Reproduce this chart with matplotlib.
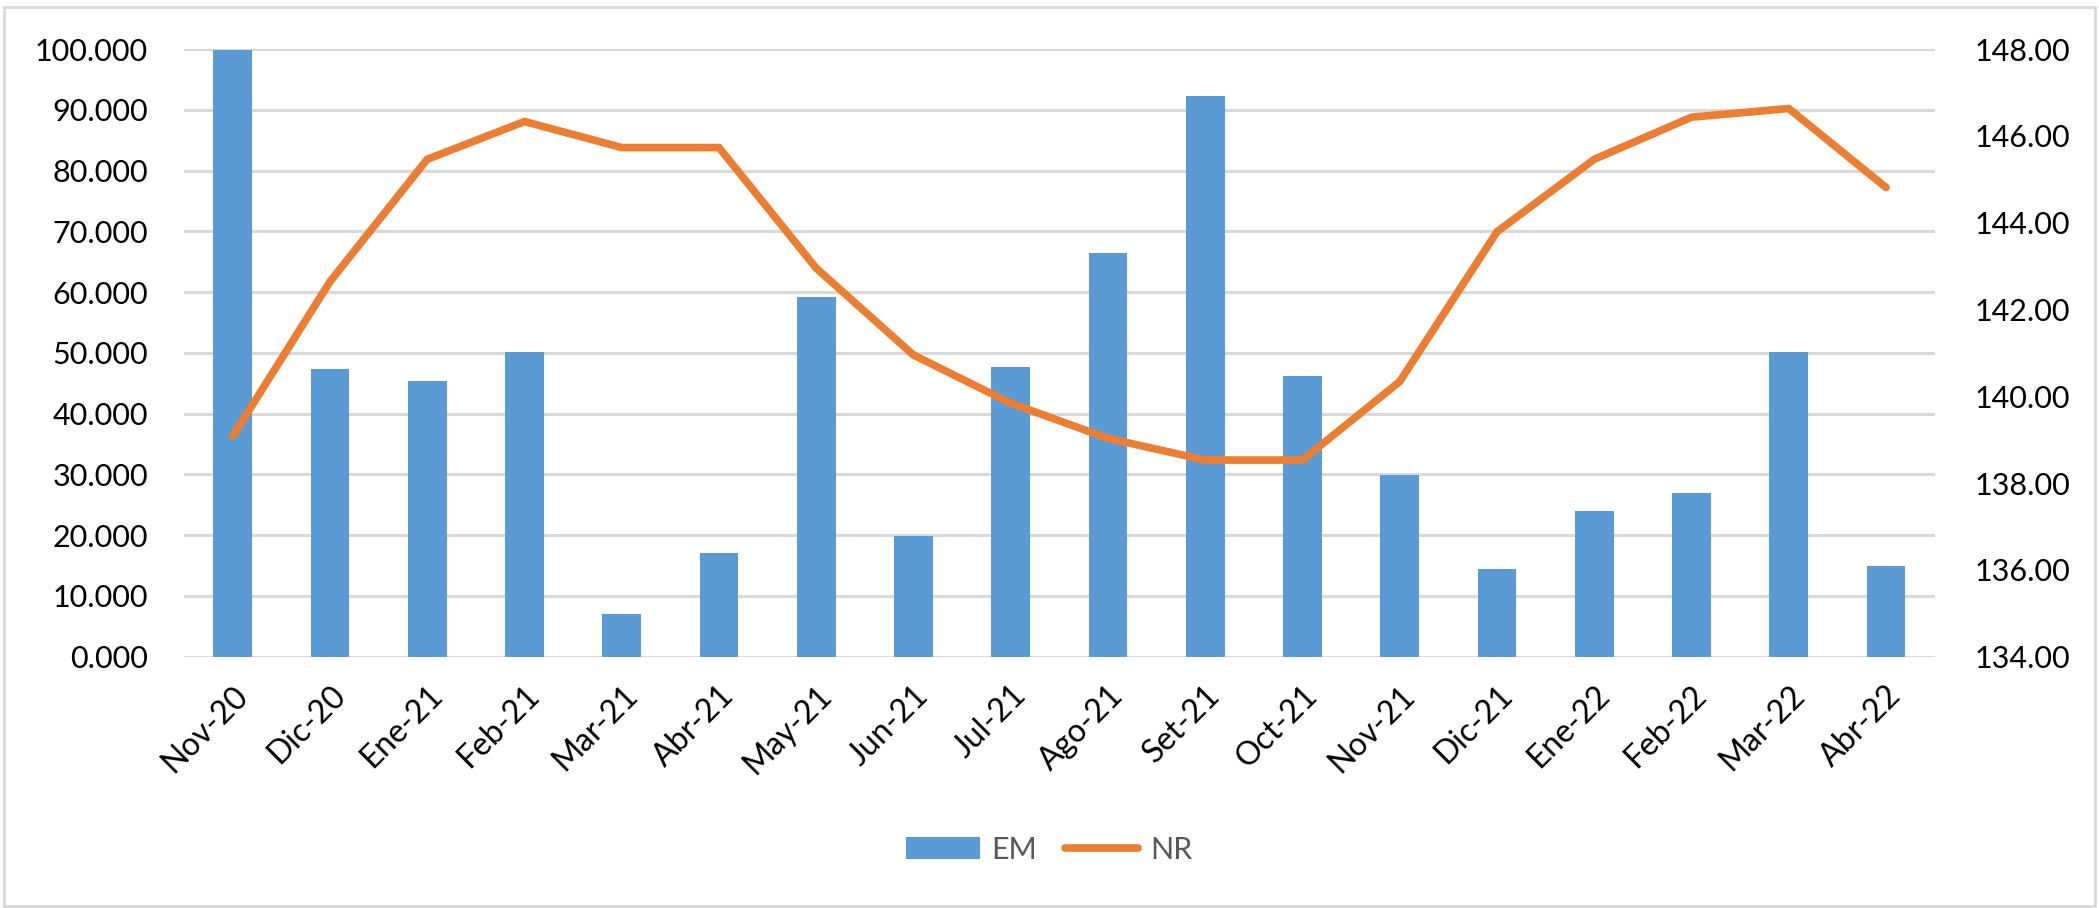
import numpy as np
import matplotlib
matplotlib.use("Agg")
import matplotlib.pyplot as plt
from matplotlib.ticker import FormatStrFormatter
from matplotlib.patches import Rectangle, Patch
from matplotlib.lines import Line2D

## Data
months = ["Nov-20", "Dic-20", "Ene-21", "Feb-21", "Mar-21", "Abr-21",
          "May-21", "Jun-21", "Jul-21", "Ago-21", "Set-21", "Oct-21",
          "Nov-21", "Dic-21", "Ene-22", "Feb-22", "Mar-22", "Abr-22"]
em = [99.8, 47.3, 45.3, 50.2, 7.1, 17.0, 59.2, 19.9, 47.7,
      66.5, 92.3, 46.2, 29.9, 14.5, 23.9, 26.9, 50.2, 15.0]
nr = [139.08, 142.64, 145.46, 146.33, 145.73, 145.73, 142.95, 140.95, 139.84,
      139.03, 138.53, 138.53, 140.34, 143.79, 145.46, 146.43, 146.63, 144.81]

left_ticks = np.arange(0, 101, 10)
right_ticks = np.arange(134, 149, 2)

## Styles
BLUE = "#5B9BD5"
ORANGE = "#ED7D31"
GRID = "#D9D9D9"
plt.rcParams["font.family"] = ["Lato", "DejaVu Sans"]
FS = 22

fig = plt.figure(figsize=(20.99, 9.08), dpi=100)
ax = fig.add_axes([0.0877, 0.2768, 0.834, 0.6692])
ax2 = ax.twinx()

x = np.arange(len(months))
ax.bar(x, em, width=0.4, color=BLUE, zorder=2)
ax2.plot(x, nr, color=ORANGE, linewidth=5.5, solid_joinstyle="miter",
         solid_capstyle="round", zorder=3)

ax.set_xlim(-0.5, len(months) - 0.5)
ax.set_ylim(0, 100)
ax2.set_ylim(134, 148)
ax.set_yticks(left_ticks)
ax2.set_yticks(right_ticks)
ax.yaxis.set_major_formatter(FormatStrFormatter("%.3f"))
ax2.yaxis.set_major_formatter(FormatStrFormatter("%.2f"))

ax.set_axisbelow(True)
ax.yaxis.grid(True, color=GRID, linewidth=2.2)
ax.set_xticks(x)
ax.set_xticklabels(months, rotation=45, ha="right", va="top",
                   rotation_mode="anchor")

for a in (ax, ax2):
    for s in a.spines.values():
        s.set_visible(False)
ax.tick_params(axis="y", length=0, pad=26, labelsize=FS, labelcolor="black")
ax2.tick_params(axis="y", length=0, pad=29, labelsize=FS, labelcolor="black")
ax.tick_params(axis="x", length=0, pad=17, labelsize=23, labelcolor="black")

# keep line above the bars
ax.set_zorder(1)
ax2.set_zorder(2)
ax.patch.set_visible(False)

## Legend
handles = [Patch(facecolor=BLUE, edgecolor="none"),
           Line2D([], [], color=ORANGE, linewidth=5.5, solid_capstyle="round")]
leg = fig.legend(handles, ["EM", "NR"], loc="center", ncol=2,
                 bbox_to_anchor=(0.5, 0.064), frameon=False, fontsize=FS,
                 handlelength=2.4, handleheight=0.72, handletextpad=0.4,
                 columnspacing=0.9)
for t in leg.get_texts():
    t.set_color("#595959")

## Outer chart border
fig.add_artist(Rectangle((0.002, 0.002), 0.996, 0.99, transform=fig.transFigure,
                         fill=False, edgecolor=GRID, linewidth=2))

fig.savefig("out.png", dpi=100)
